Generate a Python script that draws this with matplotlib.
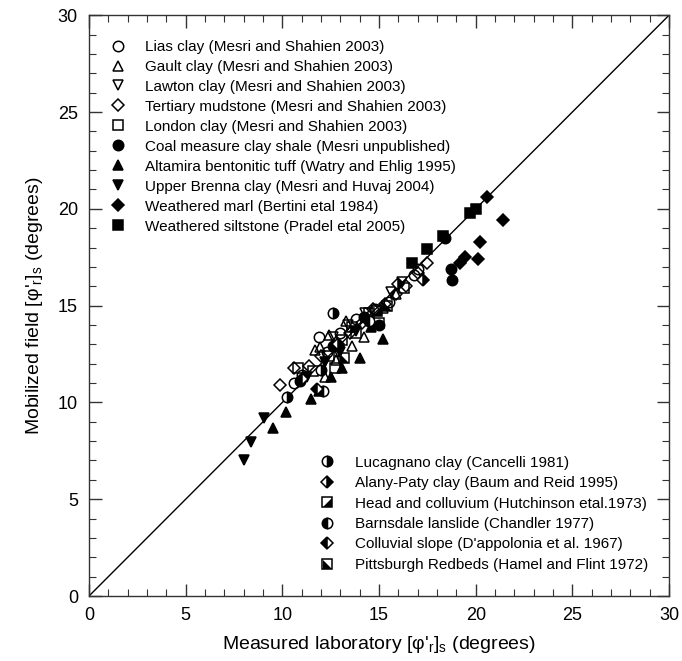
import matplotlib
matplotlib.use("Agg")
import matplotlib.pyplot as plt
from matplotlib.legend_handler import HandlerTuple
from matplotlib.ticker import MultipleLocator

# =========================
# DATA
# =========================
lias_x = [10.6, 11.0, 11.9, 12.3, 13.0, 13.8, 14.8, 15.5, 16.8, 17.0]
lias_y = [11.0, 11.4, 13.4, 12.6, 13.6, 14.3, 14.8, 15.2, 16.6, 16.9]

gault_x = [11.7, 11.95, 12.4, 12.8, 13.3, 13.6, 14.2, 15.2, 15.9, 12.2]
gault_y = [12.7, 12.85, 13.5, 12.2, 14.2, 12.9, 13.4, 14.9, 15.6, 11.3]

lawton_x = [12.6, 13.4, 14.3, 15.6, 16.2, 12.9]
lawton_y = [13.4, 14.0, 14.6, 15.7, 16.2, 12.6]

tertiary_x = [9.9, 10.6, 11.4, 12.0, 12.9, 13.5, 14.1, 14.7, 15.3, 15.9, 16.4, 17.0, 17.5]
tertiary_y = [10.9, 11.8, 11.9, 12.4, 12.9, 13.6, 14.1, 14.8, 15.1, 15.6, 16.0, 16.7, 17.2]

london_x = [10.8, 11.6, 12.4, 13.1, 13.8, 14.5, 15.0, 16.3, 12.7]
london_y = [11.8, 11.6, 12.4, 13.2, 13.6, 14.6, 14.1, 15.9, 11.8]

coal_x = [18.7, 18.8, 18.4, 10.9, 12.6, 14.2, 15.0]
coal_y = [16.9, 16.3, 18.5, 11.1, 12.9, 14.4, 14.0]

altamira_x = [9.5, 10.2, 11.5, 11.9, 12.5, 13.1, 14.0, 15.2, 14.6]
altamira_y = [8.7, 9.5, 10.2, 10.6, 11.3, 11.8, 12.3, 13.3, 13.9]

brenna_x = [8.0, 8.4, 9.05, 11.3, 12.2, 13.0, 13.8, 14.4]
brenna_y = [7.0, 7.95, 9.2, 11.3, 12.1, 12.6, 13.7, 14.2]

marl_x = [19.2, 19.45, 20.1, 20.2, 21.4, 20.6]
marl_y = [17.2, 17.5, 17.4, 18.3, 19.4, 20.6]

silt_x = [16.7, 17.5, 18.3, 19.7, 20.0]
silt_y = [17.2, 17.9, 18.6, 19.8, 20.0]

lucagnano_x = [12.6, 10.25, 12.0]
lucagnano_y = [14.6, 10.3, 11.7]

alany_x = [17.3, 16.0, 12.9]
alany_y = [16.3, 16.1, 13.0]

head_x = [13.6, 14.9]
head_y = [13.9, 14.7]

barnsdale_x = [12.1, 14.5]
barnsdale_y = [10.6, 14.2]

colluvial_x = [11.8, 11.0]
colluvial_y = [10.7, 11.2]

pitts_x = [13.2, 15.4]
pitts_y = [12.3, 15.0]

# =========================
# STYLE
# =========================
plt.rcParams["font.family"] = ["Liberation Sans", "DejaVu Sans"]
plt.rcParams["mathtext.fontset"] = "custom"
plt.rcParams["mathtext.rm"] = "Liberation Sans"
plt.rcParams["mathtext.it"] = "Liberation Sans:italic"

MS = 7.5
MEW = 1.1
LEG_FS = 11

fig = plt.figure(figsize=(6.82, 6.61), dpi=100)
ax = fig.add_axes([0.1305, 0.0983, 0.8505, 0.8787])

ax.plot([0, 30], [0, 30], color="black", lw=1.0, zorder=1)


def pts(x, y, marker, fill, **kw):
    kw.setdefault("markersize", MS)
    return ax.plot(x, y, linestyle="none", marker=marker, fillstyle=fill,
                   markerfacecolor="black", markerfacecoloralt="white",
                   markeredgecolor="black", markeredgewidth=MEW, zorder=3, **kw)[0]


h_lias = pts(lias_x, lias_y, "o", "none")
h_gault = pts(gault_x, gault_y, "^", "none")
h_lawton = pts(lawton_x, lawton_y, "v", "none")
h_tert = pts(tertiary_x, tertiary_y, "D", "none", markersize=MS - 1)
h_london = pts(london_x, london_y, "s", "none", markersize=MS - 1)
h_coal = pts(coal_x, coal_y, "o", "full")
h_alta = pts(altamira_x, altamira_y, "^", "full")
h_brenna = pts(brenna_x, brenna_y, "v", "full")
h_marl = pts(marl_x, marl_y, "D", "full", markersize=MS - 1)
h_silt = pts(silt_x, silt_y, "s", "full", markersize=MS - 1)

h_luc = pts(lucagnano_x, lucagnano_y, "o", "right")
h_alany = pts(alany_x, alany_y, "D", "right", markersize=MS - 1)
h_barn = pts(barnsdale_x, barnsdale_y, "o", "left")
h_coll = pts(colluvial_x, colluvial_y, "D", "left", markersize=MS - 1)

# diagonal half-filled squares: open square + filled triangle on top
tri_lr = [(-1, -1), (1, -1), (1, 1), (-1, -1)]
tri_ll = [(-1, -1), (1, -1), (-1, 1), (-1, -1)]
h_head_a = pts(head_x, head_y, "s", "none", markersize=MS - 1)
h_head_b = ax.plot(head_x, head_y, linestyle="none", marker=tri_lr,
                   markersize=MS - 1, color="black", mew=0, zorder=4)[0]
h_pitt_a = pts(pitts_x, pitts_y, "s", "none", markersize=MS - 1)
h_pitt_b = ax.plot(pitts_x, pitts_y, linestyle="none", marker=tri_ll,
                   markersize=MS - 1, color="black", mew=0, zorder=4)[0]

# =========================
# AXES
# =========================
ax.set_xlim(0, 30)
ax.set_ylim(0, 30)
ax.xaxis.set_major_locator(MultipleLocator(5))
ax.yaxis.set_major_locator(MultipleLocator(5))
ax.xaxis.set_minor_locator(MultipleLocator(1))
ax.yaxis.set_minor_locator(MultipleLocator(1))
ax.tick_params(which="both", direction="in", top=True, right=True,
               labelsize=13, color="#333333")
ax.tick_params(which="major", length=9, width=1.0, pad=8)
ax.tick_params(which="minor", length=5, width=0.8)
for s in ax.spines.values():
    s.set_linewidth(1.0)
    s.set_color("#333333")

ax.set_xlabel(r"Measured laboratory [φ'$_\mathrm{r}$]$_\mathrm{s}$ (degrees)", fontsize=14, labelpad=7)
ax.set_ylabel(r"Mobilized field [φ'$_\mathrm{r}$]$_\mathrm{s}$ (degrees)", fontsize=14, labelpad=9)

# =========================
# LEGENDS
# =========================
leg1 = ax.legend(
    [h_lias, h_gault, h_lawton, h_tert, h_london, h_coal, h_alta, h_brenna, h_marl, h_silt],
    ["Lias clay (Mesri and Shahien 2003)",
     "Gault clay (Mesri and Shahien 2003)",
     "Lawton clay (Mesri and Shahien 2003)",
     "Tertiary mudstone (Mesri and Shahien 2003)",
     "London clay (Mesri and Shahien 2003)",
     "Coal measure clay shale (Mesri unpublished)",
     "Altamira bentonitic tuff (Watry and Ehlig 1995)",
     "Upper Brenna clay (Mesri and Huvaj 2004)",
     "Weathered marl (Bertini etal 1984)",
     "Weathered siltstone (Pradel etal 2005)"],
    loc="upper left", bbox_to_anchor=(0.024, 0.968), frameon=False,
    fontsize=LEG_FS, labelspacing=0.39, handlelength=1.2, handletextpad=1.16,
    borderaxespad=0.0)
ax.add_artist(leg1)

ax.legend(
    [h_luc, h_alany, (h_head_a, h_head_b), h_barn, h_coll, (h_pitt_a, h_pitt_b)],
    ["Lucagnano clay (Cancelli 1981)",
     "Alany-Paty clay (Baum and Reid 1995)",
     "Head and colluvium (Hutchinson etal.1973)",
     "Barnsdale lanslide (Chandler 1977)",
     "Colluvial slope (D'appolonia et al. 1967)",
     "Pittsburgh Redbeds (Hamel and Flint 1972)"],
    handler_map={tuple: HandlerTuple(ndivide=1, pad=0)},
    loc="lower left", bbox_to_anchor=(0.384, 0.031), frameon=False,
    fontsize=LEG_FS, labelspacing=0.42, handlelength=1.2, handletextpad=1.23,
    borderaxespad=0.0)

fig.savefig("out.png", dpi=100)
